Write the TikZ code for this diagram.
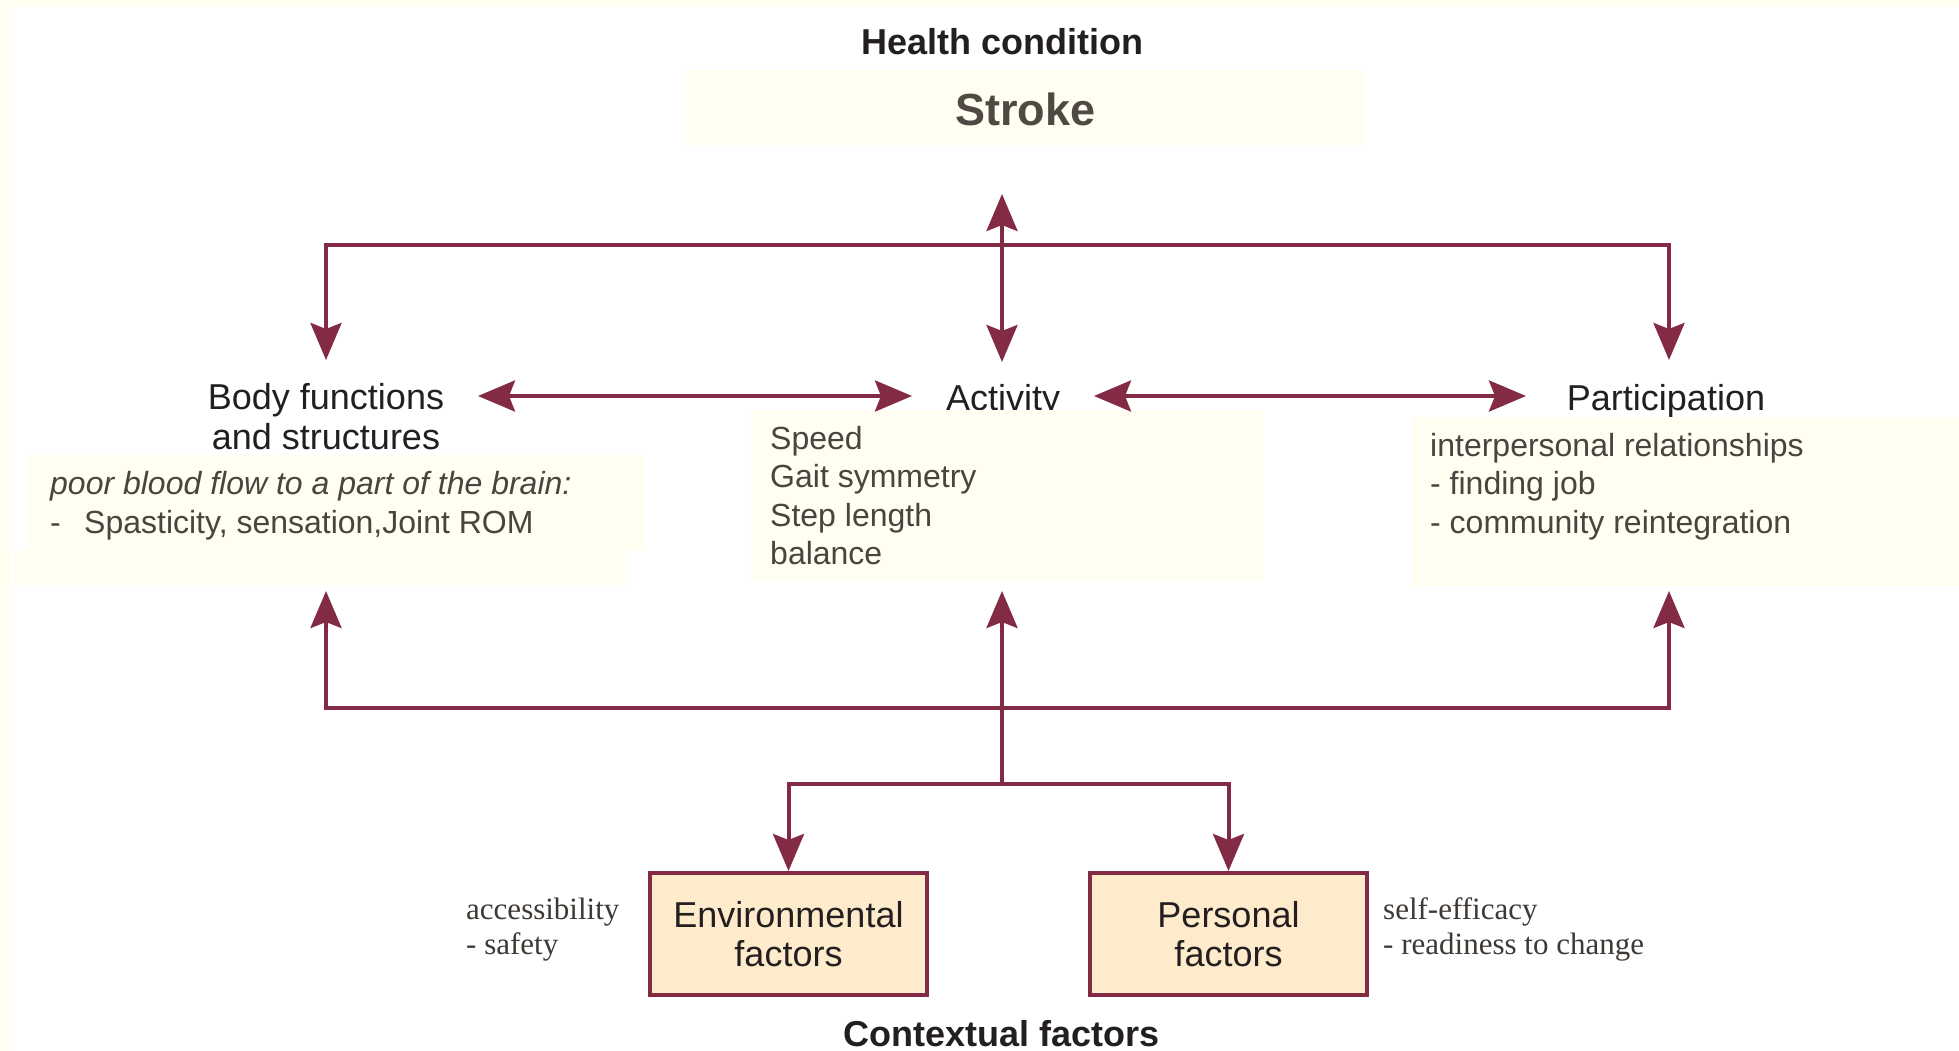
\documentclass[tikz,border=0pt]{standalone}
\usepackage{fontspec}
\setmainfont{Liberation Sans}
\newfontfamily\notefont{Liberation Serif}
\usetikzlibrary{arrows.meta}
\definecolor{maroon}{HTML}{832B44}
\definecolor{cream}{HTML}{FFFEF1}
\definecolor{peach}{HTML}{FDEBCB}
\definecolor{ink}{HTML}{231F20}
\definecolor{graytext}{HTML}{4A4440}
\definecolor{strokegray}{HTML}{4F4843}
\definecolor{notegray}{HTML}{3E3935}
\begin{document}
\begin{tikzpicture}[x=1pt,y=-1pt,
  >={Stealth[length=37pt,width=31pt,inset=6pt]},
  arr/.style={draw=maroon, line width=4pt},
  panel/.style={fill=cream, draw=none, inner sep=0pt, outer sep=0pt, anchor=north west},
  lab/.style={font=\fontsize{36}{40}\selectfont, text=ink, inner sep=0pt, anchor=base},
  hdr/.style={font=\bfseries\fontsize{36}{40}\selectfont, text=ink, inner sep=0pt, anchor=base},
  item/.style={font=\fontsize{32}{39}\selectfont, text=graytext, inner sep=0pt, anchor=base west},
  note/.style={font=\notefont\fontsize{31}{35}\selectfont, text=notegray, inner sep=0pt, anchor=base west},
  factorbox/.style={draw=maroon, line width=4pt, fill=peach, minimum width=277pt, minimum height=122pt,
    inner sep=0pt, align=center, font=\fontsize{36}{39}\selectfont, text=ink}]
\useasboundingbox (0,0) rectangle (1959,1051);
\fill[white] (0,0) rectangle (1959,1051);
\fill[cream] (0,0) rectangle (1959,7);
\fill[cream] (0,0) rectangle (10,1051);

% Health condition
\node[hdr] (hc) at (1002,55) {Health condition};
\node[fill=cream, minimum width=679pt, minimum height=75pt, inner sep=0pt,
  font=\bfseries\fontsize{45}{50}\selectfont, text=strokegray, text height=36pt, text depth=0pt]
  (stroke) at (1025.5,107.5) {Stroke};

% Labels
\node[lab] (body1) at (326,409) {Body functions};
\node[lab] (body2) at (326,449) {and structures};
\node[lab] (act) at (1003,410) {Activity};
\node[lab] (part) at (1666,410) {Participation};

% Panels
\node[panel, minimum width=615pt, minimum height=95pt] (bodypanel) at (29,455) {};
\node[panel, minimum width=613pt, minimum height=35pt] (bodypanelb) at (13,550) {};
\node[panel, minimum width=512pt, minimum height=170pt] (actpanel) at (751,410) {};
\node[panel, minimum width=547pt, minimum height=169pt] (partpanel) at (1412,417) {};

% Panel texts
\node[item, font=\fontsize{32}{39}\selectfont\itshape] (b1) at (50,494) {poor blood flow to a part of the brain:};
\node[item] (b2d) at (50,533) {-};
\node[item] (b2) at (84,533) {Spasticity, sensation,Joint ROM};
\node[item] (a1) at (770,449) {Speed};
\node[item] (a2) at (770,487.5) {Gait symmetry};
\node[item] (a3) at (770,526) {Step length};
\node[item] (a4) at (770,564.5) {balance};
\node[item] (p1) at (1430,456) {interpersonal relationships};
\node[item] (p2) at (1430,494) {- finding job};
\node[item] (p3) at (1430,533) {- community reintegration};

% Contextual factors
\node[factorbox] (env) at (788.5,934) {Environmental\\factors};
\node[factorbox] (per) at (1228.5,934) {Personal\\factors};
\node[hdr] (ctx) at (1002,1046) {Contextual factors};
\node[note] (e1) at (466,919) {accessibility};
\node[note] (e2) at (466,954) {- safety};
\node[note] (s1) at (1383,919) {self-efficacy};
\node[note] (s2) at (1383,954) {- readiness to change};

% Junction and tip coordinates
\coordinate (hcTip) at (1002,194);
\coordinate (jTop) at (1002,245);
\coordinate (bodyIn) at (326,360);
\coordinate (actIn) at (1002,362);
\coordinate (partIn) at (1669,360);
\coordinate (bodyR) at (478,396);
\coordinate (actL) at (912,396);
\coordinate (actR) at (1094,396);
\coordinate (partL) at (1526,396);
\coordinate (jBot) at (1002,708);
\coordinate (bodyUp) at (326,591);
\coordinate (actUp) at (1002,591);
\coordinate (partUp) at (1669,591);
\coordinate (jLow) at (1002,784);

% Connectors
\draw[arr,->] (jTop) -| (bodyIn);
\draw[arr,->] (jTop) -| (partIn);
\draw[arr,<->] (hcTip) -- (actIn);
\draw[arr,<->] (bodyR) -- (actL);
\draw[arr,<->] (actR) -- (partL);
\draw[arr,->] (jBot) -| (bodyUp);
\draw[arr,->] (jBot) -| (partUp);
\draw[arr,->] (jLow) -- (actUp);
\draw[arr,->] (jLow) -| (env.north);
\draw[arr,->] (jLow) -| (per.north);
\end{tikzpicture}
\end{document}
